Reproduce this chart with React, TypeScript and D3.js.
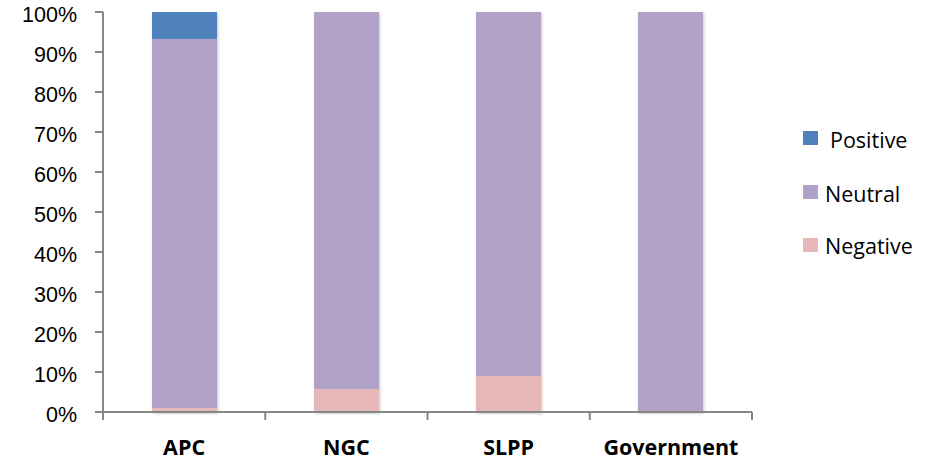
import React from "react";
import * as d3 from "d3";

const categories = ["APC", "NGC", "SLPP", "Government"];
const negative = [1, 5.7, 9, 0];
const neutral = [92.25, 94.3, 91, 100];
const positive = [6.75, 0, 0, 0];
const seriesNames = ["Negative", "Neutral", "Positive"];
const seriesColors = ["#E6B9B8", "#B3A2C7", "#4F81BD"];
const yTicks = [0, 10, 20, 30, 40, 50, 60, 70, 80, 90, 100];

const W = 936, H = 464;
const x0 = 103, x1 = 752, yTop = 12, yBot = 412;
const FONT = "'Open Sans', 'Liberation Sans', sans-serif";

export default function App() {
  const x = d3.scaleBand<string>().domain(categories).range([x0, x1]).paddingInner(0.6).paddingOuter(0.3);
  const y = d3.scaleLinear().domain([0, 100]).range([yBot, yTop]);
  const rows = categories.map((c, i) => ({ cat: c, Negative: negative[i], Neutral: neutral[i], Positive: positive[i] }));
  const stacked = d3.stack<any>().keys(seriesNames)(rows);
  const band = (x1 - x0) / categories.length;
  const legend = [
    { name: "Positive", color: seriesColors[2], sy: 131, ty: 148, tx: 830 },
    { name: "Neutral", color: seriesColors[1], sy: 185, ty: 202, tx: 825 },
    { name: "Negative", color: seriesColors[0], sy: 238, ty: 254, tx: 825 },
  ];
  return (
    <svg width={W} height={H} style={{ position: "absolute", left: 0, top: 0 }} fontFamily={FONT}>
      <defs>
        <filter id="sh" x="-20%" y="-5%" width="140%" height="115%">
          <feDropShadow dx="1" dy="1.5" stdDeviation="1.5" floodColor="#000" floodOpacity="0.22" />
        </filter>
      </defs>
      <rect width={W} height={H} fill="#fff" />
      {categories.map((c, i) => (
        <g key={c} filter="url(#sh)">
          {stacked.map((s, si) =>
            s[i][1] - s[i][0] > 0 ? (
              <rect key={s.key} x={x(c)} width={x.bandwidth()} y={y(s[i][1])} height={y(s[i][0]) - y(s[i][1])} fill={seriesColors[si]} shapeRendering="crispEdges" />
            ) : null
          )}
        </g>
      ))}
      <g stroke="#868686" strokeWidth={2} fill="none">
        <line x1={x0} x2={x0} y1={yTop} y2={yBot} />
        <line x1={x0 - 8} x2={x1} y1={yBot} y2={yBot} />
        {yTicks.map((t) => (
          <line key={t} x1={x0 - 8} x2={x0} y1={y(t)} y2={y(t)} />
        ))}
        {d3.range(categories.length + 1).map((i) => (
          <line key={i} x1={x0 + i * band} x2={x0 + i * band} y1={yBot} y2={yBot + 8} />
        ))}
      </g>
      <g fontSize={21.5} fill="#000" textAnchor="end" fontFamily="'Liberation Sans', Arial, sans-serif">
        {yTicks.map((t) => (
          <text key={t} x={77} y={y(t) + 10}>{t}%</text>
        ))}
      </g>
      <g fontSize={21.5} fontWeight="bold" fill="#000" textAnchor="middle">
        {categories.map((c) => (
          <text key={c} x={(x(c) as number) + x.bandwidth() / 2} y={455}>{c}</text>
        ))}
      </g>
      {legend.map((l) => (
        <g key={l.name}>
          <rect x={803} y={l.sy} width={15} height={14} fill={l.color} />
          <text x={l.tx} y={l.ty} fontSize={21.5} fill="#000">{l.name}</text>
        </g>
      ))}
    </svg>
  );
}
